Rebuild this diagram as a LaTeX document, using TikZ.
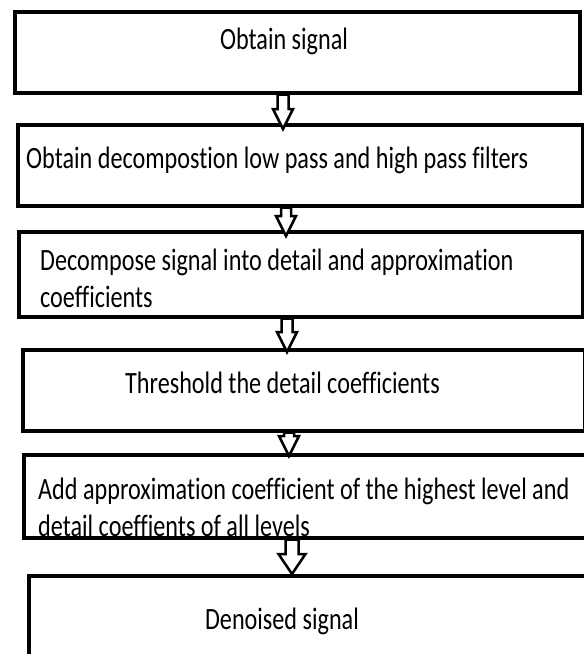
\documentclass[tikz,border=0pt]{standalone}
\usepackage{fontspec}
\setmainfont{Carlito}[Ligatures=NoCommon, FakeStretch=0.78]
\usetikzlibrary{positioning,calc}

% freccia a blocco vuota: [punta oltre il bordo]{da}{a}{mezzo gambo}{mezza punta}
\newcommand{\freccia}[5][4]{%
  \draw[blockarrow] let \p1=(#2), \p2=(#3) in
    (\x1-#4pt,\y1) -- (\x1+#4pt,\y1) -- (\x1+#4pt,\y2-#1pt+20pt)
    -- (\x1+#5pt,\y2-#1pt+20pt) -- (\x1,\y2-#1pt)
    -- (\x1-#5pt,\y2-#1pt+20pt) -- (\x1-#4pt,\y2-#1pt+20pt) -- cycle;}

\begin{document}
\begin{tikzpicture}[
    x=1pt, y=-1pt,
    box/.style={draw, line width=3.5pt, inner sep=0pt, anchor=north west},
    testo/.style={inner sep=0pt, font=\fontsize{31}{37}\selectfont},
    blockarrow/.style={draw, line width=2.5pt, fill=white, line join=miter}
]
  \useasboundingbox (0,0) rectangle (584,654);
  \clip (0,0) rectangle (584,654);

  % riquadri
  \node[box, minimum width=565pt, minimum height=81pt] (b1) at (13,10) {};
  \node[box, minimum width=565pt, minimum height=81pt] (b2) at (16,123) {};
  \node[box, minimum width=564pt, minimum height=85pt] (b3) at (17,230) {};
  \node[box, minimum width=562pt, minimum height=81pt] (b4) at (21,348) {};
  \node[box, minimum width=600pt, minimum height=83pt] (b5) at (22,453) {};
  \node[box, minimum width=600pt, minimum height=120pt] (b6) at (27,574) {};

  % testi
  \node[testo, anchor=base] (t1) at (284,49) {Obtain signal};
  \node[testo, anchor=base west] (t2) at (26,168)
    {Obtain decompostion low pass and high pass filters};
  \node[testo, anchor=base west, align=left] (t3) at (40,307)
    {Decompose signal into detail and approximation\\coefficients};
  \node[testo, anchor=base west] (t4) at (125,393)
    {Threshold the detail coefficients};
  \node[testo, anchor=base west, align=left] (t5) at (38,536)
    {Add approximation coefficient of the highest level and\\detail coeffients of all levels};
  \node[testo, anchor=base] (t6) at (282,629) {Denoised signal};

  % frecce tra i riquadri
  \freccia[6]{283,0 |- b1.south}{283,0 |- b2.north}{5.5}{10}
  \freccia[6]{286,0 |- b2.south}{286,0 |- b3.north}{5}{10}
  \freccia{287,0 |- b3.south}{287,0 |- b4.north}{5.5}{10}
  \freccia[3]{289,0 |- b4.south}{289,0 |- b5.north}{5}{10}
  \freccia[0]{292,0 |- b5.south}{292,0 |- b6.north}{6.5}{13.5}

\end{tikzpicture}
\end{document}
